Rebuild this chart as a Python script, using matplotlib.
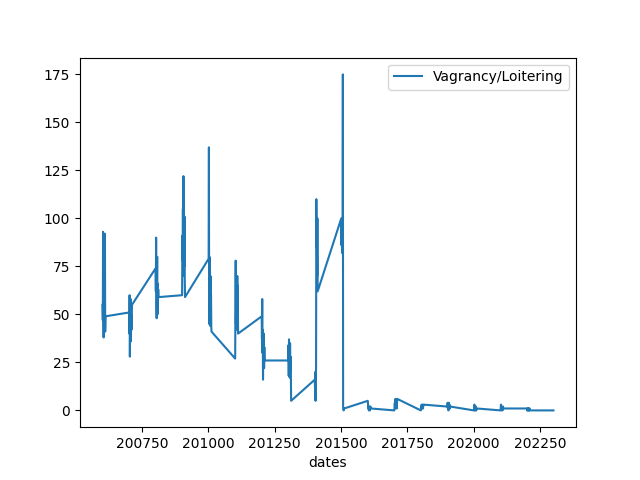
import matplotlib
matplotlib.use("Agg")
import matplotlib.pyplot as plt

years = list(range(2006, 2023))
months = list(range(1, 13))

values_by_year = {
    2006: [55, 47, 93, 62, 38, 70, 85, 44, 58, 92, 41, 49],
    2007: [51, 40, 60, 28, 45, 37, 58, 36, 50, 42, 47, 55],
    2008: [74, 62, 90, 55, 48, 68, 80, 50, 66, 58, 63, 59],
    2009: [60, 91, 78, 105, 70, 122, 85, 96, 75, 101, 68, 59],
    2010: [79, 137, 45, 80, 50, 75, 44, 70, 48, 60, 43, 41],
    2011: [27, 55, 78, 45, 67, 52, 60, 42, 70, 48, 65, 40],
    2012: [49, 37, 58, 30, 42, 16, 35, 28, 40, 22, 33, 26],
    2013: [26, 34, 18, 37, 22, 30, 17, 35, 20, 28, 19, 5],
    2014: [16, 12, 20, 5, 18, 22, 110, 85, 95, 70, 100, 62],
    2015: [100, 86, 97, 82, 92, 84, 175, 2, 1, 0, 1, 1],
    2016: [5, 3, 1, 2, 0, 1, 2, 1, 0, 1, 2, 1],
    2017: [0, 2, 4, 1, 6, 3, 5, 2, 4, 1, 3, 6],
    2018: [0, 2, 1, 3, 2, 1, 3, 2, 1, 2, 3, 3],
    2019: [2, 4, 1, 3, 0, 2, 4, 1, 3, 2, 1, 2],
    2020: [0, 1, 3, 0, 2, 1, 0, 2, 1, 0, 1, 1],
    2021: [0, 1, 3, 2, 0, 1, 2, 1, 0, 1, 2, 1],
    2022: [1, 0, 1, 0, 0, 1, 0, 1, 0, 0, 1, 0],
}
final_date = 202301
final_value = 0

dates = []
values = []
for y in years:
    for m, v in zip(months, values_by_year[y]):
        dates.append(y * 100 + m)
        values.append(v)
dates.append(final_date)
values.append(final_value)

fig, ax = plt.subplots(figsize=(6.4, 4.8), dpi=100)
ax.plot(dates, values, label="Vagrancy/Loitering")
ax.set_xlabel("dates")
ax.legend(loc="upper right")
fig.savefig("out.png")
